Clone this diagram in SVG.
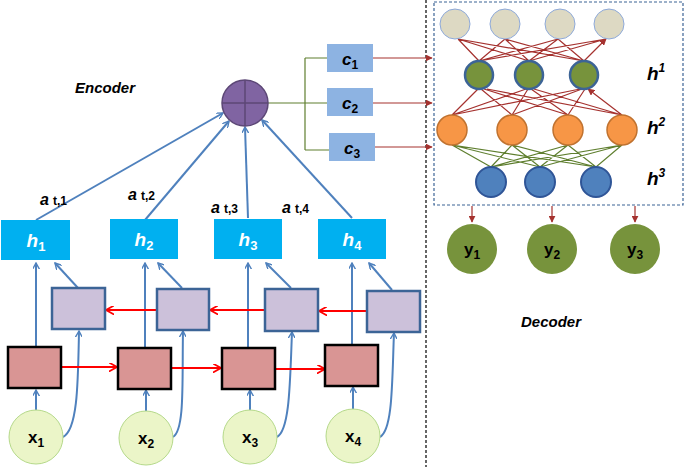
<svg xmlns="http://www.w3.org/2000/svg" width="685" height="467" viewBox="0 0 685 467">
<defs>
<marker id="ab" viewBox="0 0 10 10" refX="9" refY="5" markerWidth="7" markerHeight="7" orient="auto-start-reverse" markerUnits="userSpaceOnUse"><path d="M0,0 L9,5 L0,10" fill="none" stroke="#4f81bd" stroke-width="2"/></marker>
<marker id="ar" viewBox="0 0 10 10" refX="9" refY="5" markerWidth="9" markerHeight="9" orient="auto" markerUnits="userSpaceOnUse"><path d="M0,0 L9,5 L0,10" fill="none" stroke="#ff0000" stroke-width="2"/></marker>
<marker id="ad" viewBox="0 0 10 10" refX="9" refY="5" markerWidth="7" markerHeight="7" orient="auto" markerUnits="userSpaceOnUse"><path d="M0,0 L10,5 L0,10Z" fill="#a5322f"/></marker>
</defs>
<style>
.t{font-family:"Liberation Sans",Arial,sans-serif;font-weight:bold}
.bl{stroke:#4f81bd;stroke-width:2;fill:none;marker-end:url(#ab)}
.rd{stroke:#ff0000;stroke-width:2;fill:none;marker-end:url(#ar)}
.dr{stroke:#a5322f;stroke-width:1.2;fill:none;marker-end:url(#ad)}
.gn{stroke:#5f7f2f;stroke-width:1.2;fill:none}
.hb{fill:#00b0f0}
.pb{fill:#ccc1da;stroke:#3c6496;stroke-width:2.5}
.rb{fill:#d99594;stroke:#000;stroke-width:2.5}
.xc{fill:#ebf5c8;stroke:#b5d98a;stroke-width:1}
.cb{fill:#8db3e2}
</style>
<rect width="685" height="467" fill="#fff"/>
<line x1="426" y1="0" x2="426" y2="467" stroke="#000" stroke-width="1.2" stroke-dasharray="3,2"/>
<rect x="434" y="2" width="249" height="203" fill="none" stroke="#3c6496" stroke-width="1.2" stroke-dasharray="3,2"/>
<g id="connectors">
<path class="bl" d="M36,220 L223,113"/><path class="bl" d="M145,220 L229,121"/><path class="bl" d="M248,218 L245,127"/><path class="bl" d="M352,218 L262,120"/>
<path class="gn" d="M268,103 H327 M305,58 V150 M305,58 H327 M305,150 H329" stroke-width="1.8"/>
<path class="dr" d="M373,58 H432"/><path class="dr" d="M373,103 H432"/><path class="dr" d="M375,147 H432"/>
<path class="bl" d="M36,411 V390"/><path class="bl" d="M146,411 V390"/><path class="bl" d="M250,411 V390"/><path class="bl" d="M353,411 V387"/>
<path class="bl" d="M36,347 V263"/><path class="bl" d="M145,347 V263"/><path class="bl" d="M248,347 V263"/><path class="bl" d="M352,344 V263"/>
<path class="bl" d="M78,288 L55,263"/><path class="bl" d="M182,288 L158,263"/><path class="bl" d="M291,288 L266,263"/><path class="bl" d="M392,290 L369,263"/>
<path class="bl" d="M63,437 C78,430 78,380 79,331"/><path class="bl" d="M173,437 C185,430 182,380 183,331"/><path class="bl" d="M277,437 C290,430 290,380 292,332"/><path class="bl" d="M380,437 C393,430 392,380 394,333"/>
<path class="rd" d="M61,367 H117"/><path class="rd" d="M171,368 H221"/><path class="rd" d="M275,369 H325"/>
<path class="rd" d="M367,311 H319"/><path class="rd" d="M265,310 H210"/><path class="rd" d="M157,310 H106"/>
<g>
<path class="dr" d="M479,61 L458,39 M479,61 L505,39 M479,61 L558,39 M479,61 L606,39 M529,61 L458,39 M529,61 L505,39 M529,61 L558,39 M529,61 L606,39 M584,61 L458,39 M584,61 L505,39 M584,61 L558,39 M584,61 L606,39"/>
<path class="dr" d="M452,115 L478,89 M452,115 L526,89 M452,115 L580,89 M512,115 L481,89 M512,115 L528,89 M512,115 L582,89 M568,115 L484,89 M568,115 L531,89 M568,115 L585,89 M622,115 L487,89 M622,115 L534,89 M622,115 L588,89"/>
<path class="gn" d="M452,145 L491,167 L512,145 L540,167 L452,145 L596,167 L512,145 L491,167 L568,145 L540,167 L512,145 M568,145 L491,167 M568,145 L596,167 L622,145 L540,167 M622,145 L491,167 M512,145 L596,167"/>
</g>
<path class="dr" d="M472,206 V222"/><path class="dr" d="M552,206 V222"/><path class="dr" d="M635,206 V222"/>
</g>
<g id="attn"><circle cx="245" cy="103" r="23" fill="#8064a2" stroke="#5c4776" stroke-width="1.5"/><path d="M222,103 H268 M245,80 V126" stroke="#5c4776" stroke-width="1.5"/></g>
<g id="c1"><rect class="cb" x="327" y="44" width="46" height="28"/><text class="t" x="350" y="65" font-size="17" text-anchor="middle" font-style="italic">c<tspan font-size="12" font-style="normal" dy="4">1</tspan></text></g>
<g id="c2"><rect class="cb" x="327" y="88" width="46" height="28"/><text class="t" x="350" y="109" font-size="17" text-anchor="middle" font-style="italic">c<tspan font-size="12" font-style="normal" dy="4">2</tspan></text></g>
<g id="c3"><rect class="cb" x="329" y="133" width="46" height="28"/><text class="t" x="352" y="154" font-size="17" text-anchor="middle" font-style="italic">c<tspan font-size="12" font-style="normal" dy="4">3</tspan></text></g>
<text class="t" x="105" y="93" font-size="15" font-style="italic" text-anchor="middle">Encoder</text>
<text class="t" x="551" y="327" font-size="15" font-style="italic" text-anchor="middle">Decoder</text>
<g font-size="16"><text class="t" x="40" y="205" font-style="italic">a<tspan font-size="12" font-style="normal" dx="4">t,1</tspan></text>
<text class="t" x="128" y="200" font-style="italic">a<tspan font-size="12" font-style="normal" dx="4">t,2</tspan></text>
<text class="t" x="211" y="213" font-style="italic">a<tspan font-size="12" font-style="normal" dx="4">t,3</tspan></text>
<text class="t" x="282" y="213" font-style="italic">a<tspan font-size="12" font-style="normal" dx="4">t,4</tspan></text></g>
<g id="h1"><rect class="hb" x="1" y="220" width="69" height="40"/><text class="t" x="36" y="247" font-size="19" fill="#fff" text-anchor="middle" font-style="italic">h<tspan font-size="13" font-style="normal" dy="4">1</tspan></text></g>
<g id="h2"><rect class="hb" x="110" y="219" width="68" height="40"/><text class="t" x="144" y="246" font-size="19" fill="#fff" text-anchor="middle" font-style="italic">h<tspan font-size="13" font-style="normal" dy="4">2</tspan></text></g>
<g id="h3"><rect class="hb" x="214" y="219" width="68" height="40"/><text class="t" x="248" y="246" font-size="19" fill="#fff" text-anchor="middle" font-style="italic">h<tspan font-size="13" font-style="normal" dy="4">3</tspan></text></g>
<g id="h4"><rect class="hb" x="318" y="219" width="68" height="40"/><text class="t" x="352" y="246" font-size="19" fill="#fff" text-anchor="middle" font-style="italic">h<tspan font-size="13" font-style="normal" dy="4">4</tspan></text></g>
<g id="b1"><rect class="pb" x="52" y="288" width="53" height="41"/></g>
<g id="b2"><rect class="pb" x="157" y="289" width="52" height="41"/></g>
<g id="b3"><rect class="pb" x="265" y="289" width="53" height="42"/></g>
<g id="b4"><rect class="pb" x="367" y="291" width="53" height="41"/></g>
<g id="f1"><rect class="rb" x="8" y="347" width="53" height="41"/></g>
<g id="f2"><rect class="rb" x="118" y="348" width="53" height="41"/></g>
<g id="f3"><rect class="rb" x="222" y="348" width="53" height="41"/></g>
<g id="f4"><rect class="rb" x="325" y="345" width="53" height="41"/></g>
<g id="x1"><circle class="xc" cx="36" cy="437" r="27"/><text class="t" x="36" y="443" font-size="17" text-anchor="middle">x<tspan font-size="12" dy="4">1</tspan></text></g>
<g id="x2"><circle class="xc" cx="146" cy="438" r="27"/><text class="t" x="146" y="444" font-size="17" text-anchor="middle">x<tspan font-size="12" dy="4">2</tspan></text></g>
<g id="x3"><circle class="xc" cx="250" cy="437" r="27"/><text class="t" x="250" y="443" font-size="17" text-anchor="middle">x<tspan font-size="12" dy="4">3</tspan></text></g>
<g id="x4"><circle class="xc" cx="353" cy="436" r="27"/><text class="t" x="353" y="442" font-size="17" text-anchor="middle">x<tspan font-size="12" dy="4">4</tspan></text></g>
<g id="decoder-nodes">
<g fill="#ddd9c3" stroke="#8eaadb" stroke-width="1"><circle cx="455" cy="24" r="15"/><circle cx="505" cy="24" r="15"/><circle cx="560" cy="24" r="15"/><circle cx="609" cy="24" r="15"/></g>
<g fill="#77933c" stroke="#3c6496" stroke-width="2.5"><circle cx="479" cy="75" r="14"/><circle cx="529" cy="75" r="14"/><circle cx="584" cy="75" r="14"/></g>
<g fill="#f79646" stroke="#c0722f" stroke-width="1.5"><circle cx="452" cy="130" r="15"/><circle cx="512" cy="130" r="15"/><circle cx="568" cy="130" r="15"/><circle cx="622" cy="130" r="15"/></g>
<g fill="#4f81bd" stroke="#2f5597" stroke-width="2"><circle cx="491" cy="182" r="15"/><circle cx="540" cy="182" r="15"/><circle cx="596" cy="182" r="15"/></g>
<text class="t" x="647" y="80" font-size="19" font-style="italic">h<tspan font-size="12" dy="-8">1</tspan></text>
<text class="t" x="647" y="134" font-size="19" font-style="italic">h<tspan font-size="12" dy="-8">2</tspan></text>
<text class="t" x="647" y="185" font-size="19" font-style="italic">h<tspan font-size="12" dy="-8">3</tspan></text>
</g>
<g id="y1"><circle cx="472" cy="249" r="25" fill="#77933c"/><text class="t" x="472" y="255" font-size="17" text-anchor="middle">y<tspan font-size="12" dy="4">1</tspan></text></g>
<g id="y2"><circle cx="552" cy="249" r="25" fill="#77933c"/><text class="t" x="552" y="255" font-size="17" text-anchor="middle">y<tspan font-size="12" dy="4">2</tspan></text></g>
<g id="y3"><circle cx="635" cy="249" r="25" fill="#77933c"/><text class="t" x="635" y="255" font-size="17" text-anchor="middle">y<tspan font-size="12" dy="4">3</tspan></text></g>
</svg>
